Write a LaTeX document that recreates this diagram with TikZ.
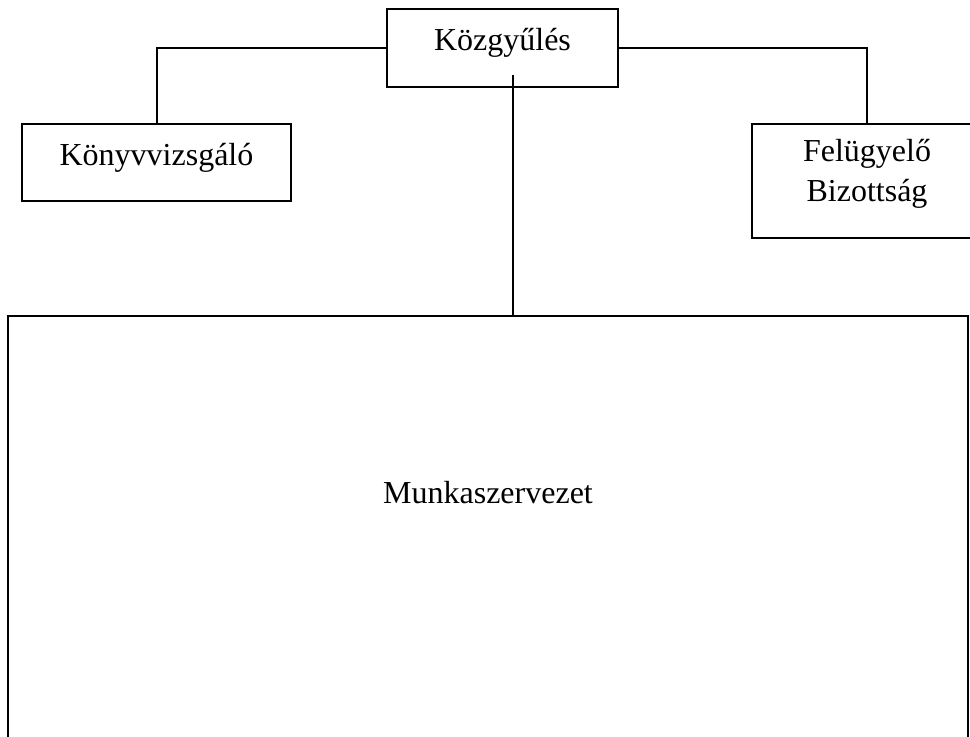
\documentclass[tikz,border=0pt]{standalone}
\usepackage{fontspec}
\setmainfont{Liberation Serif}
\usetikzlibrary{positioning}

\begin{document}
\begin{tikzpicture}[x=0.375pt, y=-0.375pt, line width=0.75pt,
  every node/.style={font=\fontsize{12}{12.75}\selectfont},
  orgbox/.style={draw, rectangle, inner sep=0pt, align=center}]
\useasboundingbox (0,0) rectangle (970,736);
\clip (0,0) rectangle (970,736);
% boxes
\node[orgbox, minimum width=86.625pt, minimum height=29.25pt,
  text height=15.375pt, text depth=13.875pt] (kozgy) at (502.5,48) {Közgyűlés};
\node[orgbox, minimum width=100.875pt, minimum height=28.875pt,
  text height=15.375pt, text depth=13.5pt] (konyv) at (156.5,162.5) {Könyvvizsgáló};
\node[orgbox, minimum width=86.25pt, minimum height=42.75pt,
  text height=28.875pt, text depth=13.875pt] (felugy) at (867,181) {Felügyelő\\[2pt]Bizottság};
\node[orgbox, minimum width=360pt, minimum height=166.5pt,
  text height=70.125pt, text depth=96.375pt] (munka) at (488,538) {Munkaszervezet};
% connectors
\draw (kozgy.west) -| (konyv.north);
\draw (kozgy.east) -| (felugy.north);
\coordinate (kozgyfoot) at (513,75);
\draw (kozgyfoot) -- (kozgyfoot |- munka.north);
\end{tikzpicture}
\end{document}
